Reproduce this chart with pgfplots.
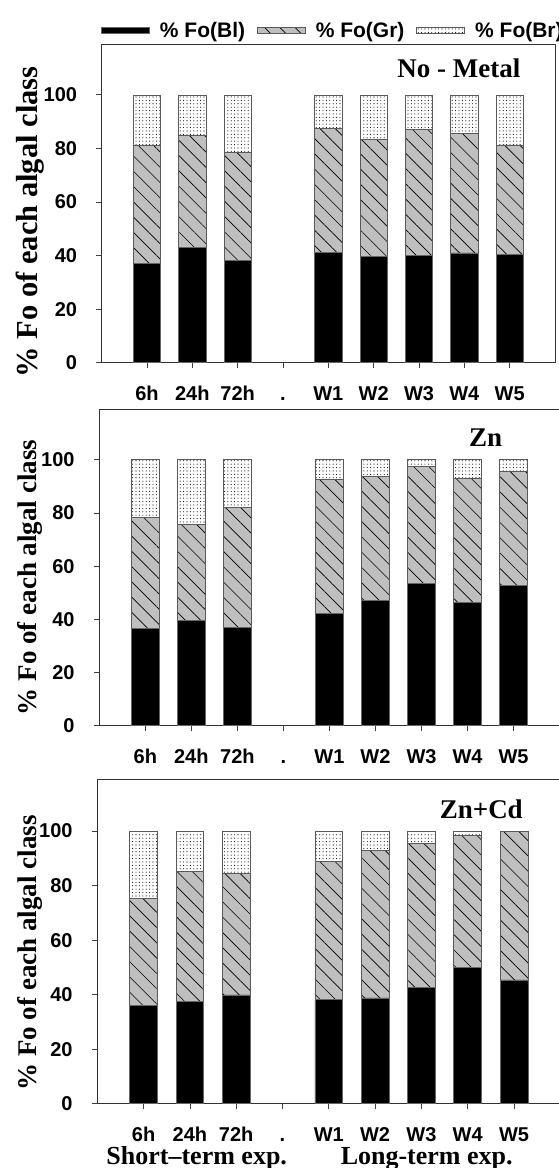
\documentclass[border=0pt]{standalone}
\usepackage{fontspec}
\setmainfont{Liberation Serif}
\setsansfont{Liberation Sans}
\usepackage{pgfplots}
\pgfplotsset{compat=1.18}
\usetikzlibrary{patterns.meta}

\pgfplotsset{
  panel/.style={
    scale only axis,
    anchor=south west,
    ybar stacked,
    bar width=0.6,
    xmin=-1, xmax=9, ymin=0, ymax=119,
    xtick={0,...,8},
    xticklabels={6h,24h,72h,.,W1,W2,W3,W4,W5},
    ytick={0,20,40,60,80,100},
    tick align=outside,
    xtick pos=bottom, ytick pos=left,
    major tick length=5.5pt,
    tick style={black!75, line width=0.8pt},
    axis line style={black!80, line width=0.8pt},
    /pgf/number format/assume math mode=true,
    ticklabel style={font=\fontsize{20}{23}\selectfont\sffamily\bfseries},
    xticklabel style={anchor=base, inner sep=0pt, yshift=-32.3pt},
    yticklabel style={anchor=east, inner sep=0pt, xshift=-19pt},
    clip=false,
  },
  limg/.style={/pgfplots/legend image code/.code={\draw[##1] (0pt,-3pt) rectangle (48pt,3pt);}},
  bl/.style={fill=black, draw=black!60, line width=0.7pt, limg},
  gr/.style={fill=black!25, draw=black!65, line width=0.7pt, limg,
    postaction={pattern={Lines[angle=-45,distance=10.8pt,line width=0.65pt]}}},
  br/.style={fill=white, draw=black!65, line width=0.7pt, limg,
    postaction={pattern={Dots[distance=3.4pt,radius=0.55pt]}}},
}

\begin{document}
\begin{tikzpicture}[x=1pt,y=1pt]
\useasboundingbox (0,0) rectangle (558,1168);

% ---------- Panel 1: No - Metal
\begin{axis}[panel, at={(101.7pt,805.3pt)}, width=453.3pt, height=318.7pt,
  legend columns=3,
  legend style={at={(axis description cs:-0.002,1.0417)}, anchor=west,
    draw=none, fill=none, inner sep=0pt, outer sep=0pt,
    font=\fontsize{21}{25}\selectfont\sffamily\bfseries,
    nodes={inner sep=0pt},
    /tikz/every odd column/.append style={column sep=10.5pt},
    /tikz/every even column/.append style={column sep=11.5pt}},
]
\addplot[bl] coordinates {(0,37.1)(1,43.0)(2,38.2)(4,41.2)(5,39.7)(6,40.0)(7,41.0)(8,40.4)};
\addplot[gr] coordinates {(0,44.2)(1,41.8)(2,40.4)(4,46.4)(5,43.6)(6,47.1)(7,44.6)(8,40.9)};
\addplot[br] coordinates {(0,18.7)(1,15.2)(2,21.4)(4,12.4)(5,16.7)(6,12.9)(7,14.4)(8,18.7)};
\addlegendentry{\% Fo(Bl)}
\addlegendentry{\% Fo(Gr)}
\addlegendentry{\% Fo(Br)}
\end{axis}

% ---------- Panel 2: Zn
\begin{axis}[panel, at={(99.3pt,442.3pt)}, width=460.3pt, height=316.4pt]
\addplot[bl] coordinates {(0,36.6)(1,39.5)(2,37.0)(4,42.3)(5,47.2)(6,53.5)(7,46.5)(8,52.9)};
\addplot[gr] coordinates {(0,41.7)(1,36.2)(2,45.2)(4,50.2)(5,46.5)(6,44.0)(7,46.5)(8,42.8)};
\addplot[br] coordinates {(0,21.7)(1,24.3)(2,17.8)(4,7.5)(5,6.3)(6,2.5)(7,7.0)(8,4.3)};
\end{axis}

% ---------- Panel 3: Zn+Cd
\begin{axis}[panel, at={(97.3pt,64.3pt)}, width=463pt, height=324.4pt]
\addplot[bl] coordinates {(0,36.2)(1,37.5)(2,39.9)(4,38.3)(5,38.8)(6,42.8)(7,49.9)(8,45.4)};
\addplot[gr] coordinates {(0,39.2)(1,47.8)(2,44.7)(4,50.7)(5,54.2)(6,52.8)(7,48.5)(8,54.4)};
\addplot[br] coordinates {(0,24.6)(1,14.7)(2,15.4)(4,11.0)(5,7.0)(6,4.4)(7,1.6)(8,0.2)};
\end{axis}

% ---------- titles and labels
\node[font=\fontsize{27}{30}\selectfont\bfseries] at (458.8,1099.7) {No - Metal};
\node[font=\fontsize{27}{30}\selectfont\bfseries] at (485.7,730.5) {Zn};
\node[font=\fontsize{27}{30}\selectfont\bfseries] at (481.3,359) {Zn+Cd};

\node[rotate=90, font=\fontsize{30.5}{33}\selectfont\bfseries] at (30,946) {\% Fo of each algal class};
\node[rotate=90, font=\fontsize{27}{30}\selectfont\bfseries] at (30,590.5) {\% Fo of each algal class};
\node[rotate=90, font=\fontsize{27}{30}\selectfont\bfseries] at (30,215) {\% Fo of each algal class};

\node[font=\fontsize{26}{29}\selectfont\bfseries, inner sep=0pt] at (196.7,9.3) {Short--term exp.};
\node[font=\fontsize{26}{29}\selectfont\bfseries, inner sep=0pt] at (426.7,9.3) {Long-term exp.};
\end{tikzpicture}
\end{document}
